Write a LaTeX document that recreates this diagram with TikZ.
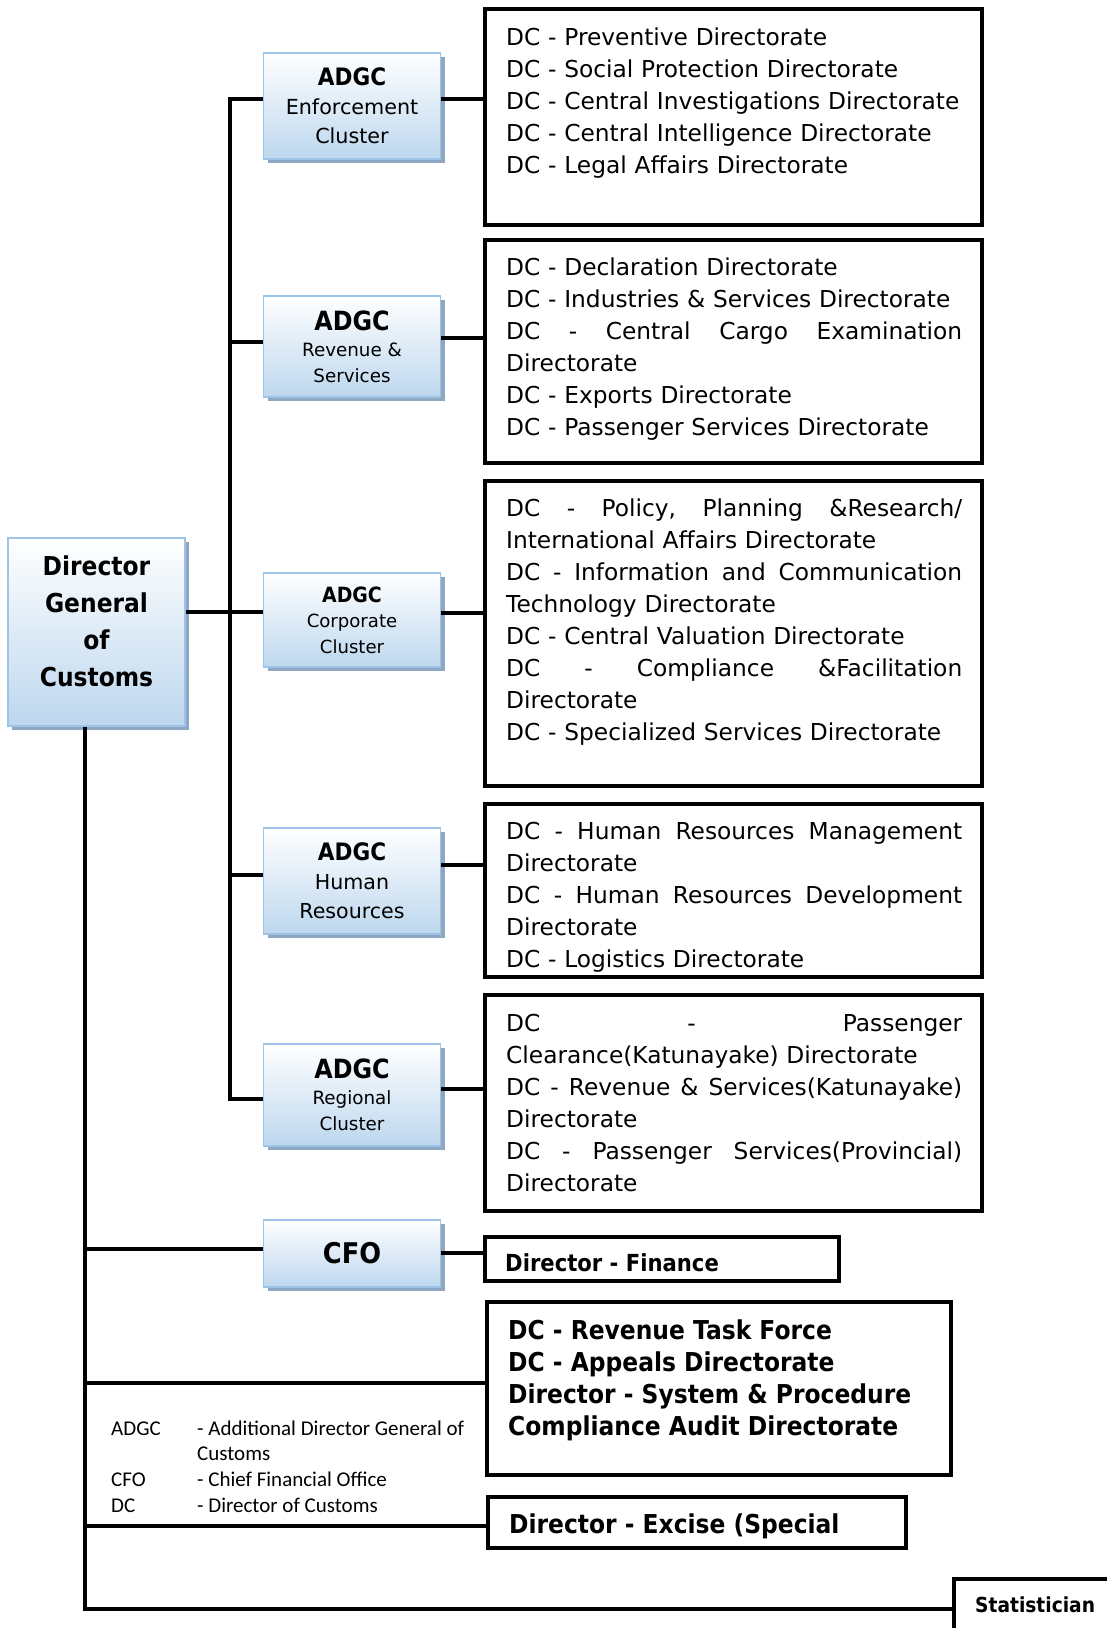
\documentclass[tikz,border=0pt]{standalone}
\usepackage{fontspec}
\setmainfont{DejaVu Sans}[BoldFeatures={FakeStretch=0.9}]
\newfontfamily\keyfont{Carlito}
\usetikzlibrary{shadows}

\definecolor{adgcfill}{HTML}{BDD7EE}
\definecolor{adgcedge}{HTML}{9DC3E6}
\definecolor{adgcshade}{HTML}{8EA8C3}

\newcommand{\spreadline}[1]{\makebox[456pt][l]{#1}}

\tikzset{
  link/.style={line width=4pt},
  adgc/.style={draw=adgcedge, line width=1.6pt, top color=white, bottom color=adgcfill,
    drop shadow={shadow xshift=4pt, shadow yshift=-4pt, fill=adgcshade, opacity=1},
    minimum width=177pt, align=center, inner sep=0pt},
  dcbox/.style={draw, line width=4pt, minimum width=497pt, inner sep=0pt},
  dclist/.style={anchor=north west, inner sep=0pt, text width=456pt, align=left,
    font=\fontsize{23.3}{32}\selectfont},
  boldline/.style={anchor=base west, inner sep=0pt},
}

\begin{document}
\begin{tikzpicture}[x=1pt,y=-1pt]
\useasboundingbox (0,0) rectangle (1107,1628);

% head and clusters
\node[adgc, minimum height=188pt] (dg) at (96.5,632) {};
\node[align=center, font=\fontsize{26}{37}\selectfont\bfseries] (dgname) at ([yshift=11pt]dg.center) {Director\\General\\of\\Customs};
\node[adgc, minimum height=106pt, font=\fontsize{20.7}{29}\selectfont] (enf) at (352,106) {{\fontsize{24}{29}\selectfont\bfseries ADGC}\\Enforcement\\Cluster};
\node[adgc, minimum height=101pt, font=\fontsize{18.3}{26}\selectfont] (rev) at (352,346.5) {{\fontsize{26.5}{26}\selectfont\bfseries ADGC}\\Revenue \&\\Services};
\node[adgc, minimum height=94pt, font=\fontsize{18.1}{25.5}\selectfont] (corp) at (352,620) {{\fontsize{21}{25.5}\selectfont\bfseries ADGC}\\Corporate\\Cluster};
\node[adgc, minimum height=106pt, font=\fontsize{20.6}{29}\selectfont] (hr) at (352,881) {{\fontsize{24}{29}\selectfont\bfseries ADGC}\\Human\\Resources};
\node[adgc, minimum height=102pt, font=\fontsize{18.3}{26}\selectfont] (reg) at (352,1095) {{\fontsize{26.5}{26}\selectfont\bfseries ADGC}\\Regional\\Cluster};
\node[adgc, minimum height=67pt, font=\fontsize{28.5}{30}\selectfont\bfseries] (cfo) at (352,1253.5) {CFO};

% directorate boxes
\node[dcbox, minimum height=216pt] (enfdc) at (733.5,117) {};
\node[dcbox, minimum height=223pt] (revdc) at (733.5,351.5) {};
\node[dcbox, minimum height=305pt] (corpdc) at (733.5,633.5) {};
\node[dcbox, minimum height=173pt] (hrdc) at (733.5,890.5) {};
\node[dcbox, minimum height=216pt] (regdc) at (733.5,1103) {};
\node[dcbox, minimum width=354pt, minimum height=44pt] (fin) at (662,1259) {};
\node[dcbox, minimum width=464pt, minimum height=173pt] (spec) at (719,1388.5) {};
\node[dcbox, minimum width=418pt, minimum height=51pt] (excise) at (697,1522.5) {};
\node[dcbox, minimum width=164pt, minimum height=60pt] (stat) at (1036,1609) {};

\node[dclist] (enflist) at (506,27.1) {DC - Preventive Directorate\\
  DC - Social Protection Directorate\\
  DC - Central Investigations Directorate\\
  DC - Central Intelligence Directorate\\
  DC - Legal Affairs Directorate};
\node[dclist] (revlist) at (506,257.7) {DC - Declaration Directorate\\
  DC - Industries \& Services Directorate\\
  \spreadline{DC\hfill-\hfill Central\hfill Cargo\hfill Examination}\\
  Directorate\\
  DC - Exports Directorate\\
  DC - Passenger Services Directorate};
\node[dclist] (corplist) at (506,498.6) {\spreadline{DC\hfill-\hfill Policy,\hfill Planning\hfill \&Research/}\\
  International Affairs Directorate\\
  \spreadline{DC\hfill-\hfill Information\hfill and\hfill Communication}\\
  Technology Directorate\\
  DC - Central Valuation Directorate\\
  \spreadline{DC\hfill-\hfill Compliance\hfill \&Facilitation}\\
  Directorate\\
  DC - Specialized Services Directorate};
\begin{scope}
  \clip (hrdc.north west) rectangle ([yshift=8pt]hrdc.south east);
  \node[dclist] (hrlist) at (506,822) {\spreadline{DC\hfill-\hfill Human\hfill Resources\hfill Management}\\
    Directorate\\
    \spreadline{DC\hfill-\hfill Human\hfill Resources\hfill Development}\\
    Directorate\\
    DC - Logistics Directorate};
\end{scope}
\node[dclist] (reglist) at (506,1014.4) {\spreadline{DC\hfill-\hfill Passenger}\\
  Clearance(Katunayake) Directorate\\
  \spreadline{DC\hfill-\hfill Revenue\hfill \&\hfill Services(Katunayake)}\\
  Directorate\\
  \spreadline{DC\hfill-\hfill Passenger\hfill Services(Provincial)}\\
  Directorate};

\node[boldline, font=\fontsize{23.5}{28}\selectfont\bfseries] (finname) at (505,1271) {Director - Finance};
\node[anchor=north west, inner sep=0pt, align=left, font=\fontsize{26}{32}\selectfont\bfseries] (speclist) at (508,1319.2) {DC - Revenue Task Force\\
  DC - Appeals Directorate\\
  Director - System \& Procedure\\
  Compliance Audit Directorate};
\node[boldline, font=\fontsize{26}{30}\selectfont\bfseries] (excname) at (509,1533) {Director - Excise (Special};
\node[boldline, font=\fontsize{20.7}{24}\selectfont\bfseries] (statname) at (975,1612) {Statistician};

% abbreviations
\node[anchor=north west, inner sep=0pt, font=\keyfont\fontsize{21}{25.7}\selectfont] (key) at (111,1416.8) {%
  \begin{tabular}{@{}p{86pt}@{}l@{}}
  ADGC & - Additional Director General of\\
       & Customs\\
  CFO  & - Chief Financial Office\\
  DC   & - Director of Customs
  \end{tabular}};

% connectors
\coordinate (spine) at (230,612);
\coordinate (enfin) at ([yshift=7pt]enf.west);
\coordinate (revin) at ([yshift=4.5pt]rev.west);
\coordinate (hrin) at ([yshift=6pt]hr.west);
\coordinate (regin) at ([yshift=-4pt]reg.west);
\draw[link] (dg.east |- spine) -- (corp.west |- spine);
\draw[link] (enfin) -| (spine |- regin) -- (regin);
\draw[link] (spine |- revin) -- (revin);
\draw[link] (spine |- hrin) -- (hrin);

\foreach \a/\b/\s in {enf/enfdc/7, rev/revdc/8.5, corp/corpdc/7, hr/hrdc/16, reg/regdc/6, cfo/fin/0.5} {
  \coordinate (out) at ([yshift=\s pt]\a.east);
  \draw[link] (out) -- (out -| \b.west);
}

\coordinate (dgfoot) at ([xshift=-11.5pt]dg.south);
\coordinate (cfoin) at ([yshift=4.5pt]cfo.west);
\coordinate (specin) at ([yshift=5.5pt]spec.west);
\coordinate (excin) at ([yshift=-3.5pt]excise.west);
\draw[link] (dgfoot) |- (stat.west);
\draw[link] (dgfoot |- cfoin) -- (cfoin);
\draw[link] (dgfoot |- specin) -- (specin);
\draw[link] (dgfoot |- excin) -- (excin);
\end{tikzpicture}
\end{document}
